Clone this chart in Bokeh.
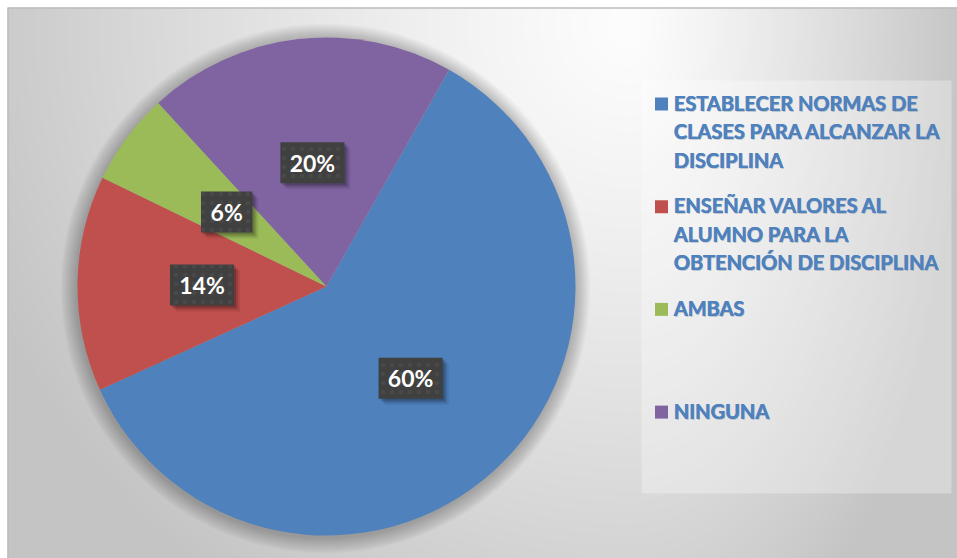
import numpy as np
from bokeh.plotting import figure
from bokeh.models import Range1d, ColumnDataSource
from bokeh.embed import file_html
from bokeh.resources import INLINE
from bokeh.core.properties import value

# ---------------- data ----------------
categories = [
    "ESTABLECER NORMAS DE CLASES PARA ALCANZAR LA DISCIPLINA",
    "ENSEÑAR VALORES AL ALUMNO PARA LA OBTENCIÓN DE DISCIPLINA",
    "AMBAS",
    "NINGUNA",
]
legend_lines = [
    ["ESTABLECER NORMAS DE", "CLASES PARA ALCANZAR LA", "DISCIPLINA"],
    ["ENSEÑAR VALORES AL", "ALUMNO PARA LA", "OBTENCIÓN DE DISCIPLINA"],
    ["AMBAS"],
    ["NINGUNA"],
]
percent = [60, 14, 6, 20]
colors = ["#4F81BD", "#C0504D", "#9BBB59", "#8064A2"]

# ---------------- layout ----------------
W, H = 957, 558
CHART_X0, CHART_Y0 = 7, 7  # screen position of chart area's top-left


def sx(x):
    return x


def sy(y):
    return H - y


p = figure(width=W, height=H, x_range=Range1d(0, W), y_range=Range1d(0, H),
           output_backend="svg", toolbar_location=None, min_border=0,
           outline_line_color=None)
p.xaxis.visible = False
p.yaxis.visible = False
p.xgrid.visible = False
p.ygrid.visible = False
p.background_fill_color = "white"
p.border_fill_color = "white"

# background gradient (decoration)
GW, GH = W - CHART_X0, H - CHART_Y0
rows, cols = np.mgrid[0:GH, 0:GW]
scr_x = cols + CHART_X0
scr_y = H - rows
cx, cy = 630.0, 25.0
rx = np.where(scr_x < cx, 700.0, 340.0)
nx = (scr_x - cx) / rx
ny = (scr_y - cy) / 700.0
t = np.clip(np.sqrt(nx ** 2 + ny ** 2), 0, 1)
g = (253 - 57 * t ** 1.2).astype(np.uint8)
img = np.empty((GH, GW), dtype=np.uint32)
view = img.view(dtype=np.uint8).reshape((GH, GW, 4))
view[:, :, 0] = g
view[:, :, 1] = g
view[:, :, 2] = g
view[:, :, 3] = 255
p.image_rgba(image=[img], x=CHART_X0, y=0, dw=GW, dh=GH)

# chart-area border (left and top)
p.line(x=[sx(CHART_X0) + 0.5, sx(CHART_X0) + 0.5, W],
       y=[0, sy(CHART_Y0) - 0.5, sy(CHART_Y0) - 0.5],
       line_color="#bdbdbd", line_width=1.5)

# ---------------- pie ----------------
CX, CY, R = sx(326), sy(286), 249.0
start0 = np.deg2rad(90 - 29.5)
vals = np.array(percent, dtype=float)
frac = vals / vals.sum()
cum = np.concatenate([[0], np.cumsum(frac)[:-1]])
starts = start0 - cum * 2 * np.pi
ends = starts - frac * 2 * np.pi
mids = (starts + ends) / 2

# soft shadow around pie
for k in range(1, 17):
    p.circle(x=CX - 1, y=CY - 2, radius=R + k, fill_color="black",
             fill_alpha=0.016, line_color=None)

src = ColumnDataSource(dict(start=starts, end=ends, color=colors,
                            cat=categories, pct=percent))
p.wedge(x=CX, y=CY, radius=R, start_angle="start", end_angle="end",
        direction="clock", fill_color="color", line_color=None, source=src)

# ---------------- data labels ----------------
lab_r = 0.5 * R
lx = CX + lab_r * np.cos(mids)
ly = CY + lab_r * np.sin(mids)
labels = [f"{v}%" for v in percent]
bw = [26 + 12.7 * len(s) for s in labels]
bh = 41
for dx, dy, a in [(2, -2, 0.18), (4, -4, 0.14), (6, -6, 0.08)]:
    p.rect(x=lx + dx, y=ly + dy, width=bw, height=bh, fill_color="black",
           fill_alpha=a, line_color=None)
p.rect(x=lx, y=ly, width=bw, height=bh, fill_color="#404040", line_color=None,
       hatch_pattern="dot", hatch_color="#585858", hatch_scale=9,
       hatch_weight=3, hatch_alpha=0.35)
p.text(x=lx, y=ly, text=labels, text_font=value("Lato"), text_font_style="bold",
       text_font_size="23px", text_color="white", text_align="center",
       text_baseline="middle")

# ---------------- legend ----------------
p.rect(x=(sx(641) + sx(951)) / 2, y=(sy(80) + sy(493)) / 2, width=310,
       height=413, fill_color="white", fill_alpha=0.3, line_color=None)

base0 = 102.0
step = 102.7
line_h = 28.5
tx, ty, tt = [], [], []
mx, my = [], []
for i, lines in enumerate(legend_lines):
    b = base0 + i * step
    mx.append(sx(661))
    my.append(sy(b + 1.5))
    for j, ln in enumerate(lines):
        tx.append(sx(673))
        ty.append(sy(b + j * line_h))
        tt.append(ln)
p.rect(x=mx, y=my, width=13, height=13, fill_color=colors, line_color=None)
p.text(x=[v + 1.2 for v in tx], y=[v - 1.2 for v in ty], text=tt,
       text_font=value("Lato"), text_font_style="bold", text_font_size="20px",
       text_color="#1f3550", text_alpha=0.22, text_align="left",
       text_baseline="alphabetic")
for dx in (0, 0.7):
    p.text(x=[v + dx for v in tx], y=ty, text=tt, text_font=value("Lato"),
           text_font_style="bold", text_font_size="20px", text_color="#4F81BD",
           text_align="left", text_baseline="alphabetic")

open("out.html", "w").write(file_html(p, INLINE))
